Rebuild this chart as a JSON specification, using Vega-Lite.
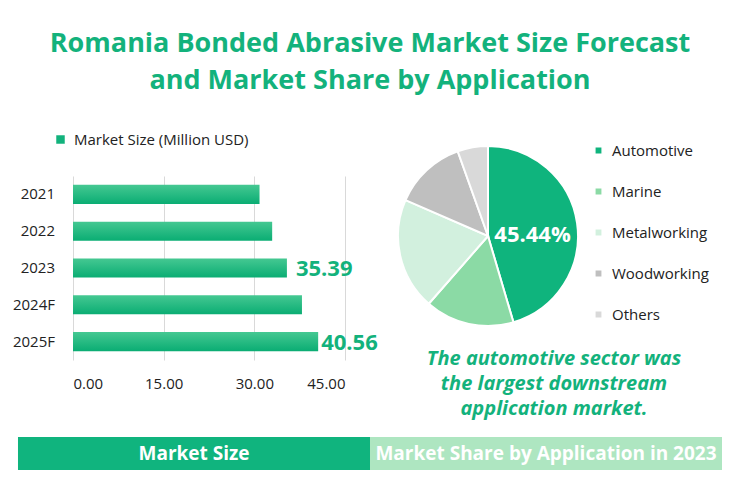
{
  "$schema": "https://vega.github.io/schema/vega-lite/v6.json",
  "padding": {"left": 10, "top": 30, "right": 0, "bottom": 0},
  "background": "white",
  "config": {"view": {"stroke": null}, "font": "Open Sans"},
  "datasets": {
    "market": [
      {"year": "2021", "size": 30.86, "label": ""},
      {"year": "2022", "size": 32.95, "label": ""},
      {"year": "2023", "size": 35.39, "label": "35.39"},
      {"year": "2024F", "size": 37.88, "label": ""},
      {"year": "2025F", "size": 40.56, "label": "40.56"}
    ]
  },
  "title": {
    "text": ["Romania Bonded Abrasive Market Size Forecast", "and Market Share by Application"],
    "font": "Open Sans", "fontSize": 27, "fontWeight": "bold", "color": "#13b27c",
    "lineHeight": 37, "anchor": "middle", "offset": 37
  },
  "spacing": 18,
  "resolve": {"scale": {"color": "independent"}, "legend": {"color": "independent"}},
  "vconcat": [
    {
      "spacing": 16,
      "resolve": {"scale": {"color": "independent"}, "legend": {"color": "independent"}},
      "hconcat": [
        {
          "spacing": 18,
          "hconcat": [
            {
              "width": 45,
              "height": 184,
              "data": {"name": "market"},
              "mark": {"type": "text", "align": "right", "baseline": "middle", "fontSize": 15, "color": "#222222", "font": "Open Sans"},
              "encoding": {
                "y": {"field": "year", "type": "nominal", "sort": null,
                  "scale": {"paddingInner": 0.48, "paddingOuter": 0.24}, "axis": null},
                "x": {"datum": 1, "type": "quantitative", "scale": {"domain": [0, 1]}, "axis": null},
                "text": {"field": "year"}
              }
            },
            {
              "width": 272,
              "height": 184,
              "data": {"name": "market"},
              "encoding": {
                "y": {"field": "year", "type": "nominal", "sort": null,
                  "scale": {"paddingInner": 0.48, "paddingOuter": 0.24}, "axis": null},
                "x": {"field": "size", "type": "quantitative",
                  "scale": {"domain": [0, 45]},
                  "axis": {"title": null, "values": [0, 15, 30, 45], "format": ".2f", "domain": false, "ticks": false, "grid": true, "gridColor": "#d9d9d9", "labelFontSize": 15, "labelPadding": 16, "labelColor": "#222222", "labelFont": "Open Sans"}}
              },
              "layer": [
                {
                  "mark": {"type": "bar", "color": {"gradient": "linear", "x1": 0, "y1": 0, "x2": 0, "y2": 1,
                    "stops": [{"offset": 0, "color": "#45c892"}, {"offset": 1, "color": "#0aad73"}]}}
                },
                {
                  "mark": {"type": "bar", "opacity": 0},
                  "encoding": {
                    "color": {"datum": "Market Size (Million USD)", "type": "nominal", "scale": {"range": ["#12b27c"]},
                      "legend": {"orient": "none", "legendX": 43, "legendY": -44, "title": null, "symbolType": "square", "symbolSize": 72, "symbolOpacity": 1, "labelFontSize": 15, "labelColor": "#222222", "labelOffset": 6, "labelLimit": 400, "padding": 0, "labelFont": "Open Sans"}}
                  }
                },
                {
                  "transform": [{"filter": "datum.year == '2023'"}],
                  "mark": {"type": "text", "align": "left", "baseline": "middle", "dx": 9, "dy": 1, "fontSize": 22, "fontWeight": "bold", "color": "#13b27c"},
                  "encoding": {"text": {"field": "label"}}
                },
                {
                  "transform": [{"filter": "datum.year == '2025F'"}],
                  "mark": {"type": "text", "align": "left", "baseline": "middle", "dx": 3, "dy": 1, "fontSize": 22, "fontWeight": "bold", "color": "#13b27c"},
                  "encoding": {"text": {"field": "label"}}
                }
              ]
            }
          ]
        },
        {
          "width": 180,
          "height": 120,
          "data": {"values": [
            {"app": "Automotive", "share": 45.44, "rank": 1, "label": "45.44%"},
            {"app": "Marine", "share": 16.0, "rank": 2, "label": ""},
            {"app": "Metalworking", "share": 20.1, "rank": 3, "label": ""},
            {"app": "Woodworking", "share": 13.0, "rank": 4, "label": ""},
            {"app": "Others", "share": 5.46, "rank": 5, "label": ""}
          ]},
          "title": {
            "text": ["The automotive sector was", "the largest downstream", "application market."],
            "orient": "bottom", "anchor": "middle", "frame": "group", "dx": 66, "offset": 19,
            "font": "Open Sans", "fontSize": 20, "fontStyle": "italic", "fontWeight": "bold", "color": "#13b27c", "lineHeight": 25
          },
          "encoding": {
            "theta": {"field": "share", "type": "quantitative", "stack": true},
            "order": {"field": "rank", "type": "quantitative"}
          },
          "layer": [
            {
              "mark": {"type": "arc", "outerRadius": 90, "stroke": "white", "strokeWidth": 2},
              "encoding": {
                "color": {"field": "app", "type": "nominal",
                  "scale": {"domain": ["Automotive", "Marine", "Metalworking", "Woodworking", "Others"],
                    "range": ["#0fb47d", "#8bdaa5", "#d2f0de", "#bfbfbf", "#d9d9d9"]},
                  "legend": {"orient": "none", "legendX": 193, "legendY": -33, "title": null, "symbolType": "square", "symbolSize": 54, "labelFontSize": 15, "labelColor": "#222222", "labelOffset": 6, "rowPadding": 25, "padding": 0, "labelFont": "Open Sans"}}
              }
            },
            {
              "mark": {"type": "text", "radius": 45, "dy": 5, "fontSize": 22, "fontWeight": "bold", "color": "white"},
              "encoding": {"text": {"field": "label"}}
            }
          ]
        }
      ]
    },
    {
      "width": 720,
      "height": 33,
      "data": {"values": [
        {"section": "Market Size"},
        {"section": "Market Share by Application in 2023"}
      ]},
      "encoding": {
        "x": {"field": "section", "type": "nominal", "sort": null, "axis": null,
          "scale": {"paddingInner": 0, "paddingOuter": 0.0227}}
      },
      "layer": [
        {
          "mark": {"type": "bar"},
          "encoding": {
            "color": {"field": "section", "type": "nominal", "sort": null,
              "scale": {"domain": ["Market Size", "Market Share by Application in 2023"], "range": ["#10b47e", "#aee6c1"]}, "legend": null}
          }
        },
        {
          "mark": {"type": "text", "color": "white", "fontSize": 19, "fontWeight": "bold", "baseline": "middle"},
          "encoding": {"text": {"field": "section"}}
        }
      ]
    }
  ]
}
